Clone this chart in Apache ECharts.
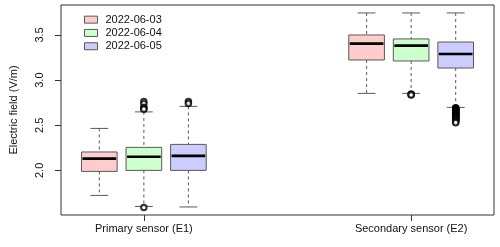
<!DOCTYPE html>
<html>
<head>
<meta charset="utf-8">
<script src="https://cdn.jsdelivr.net/npm/echarts@6/dist/echarts.min.js"></script>
<style>html,body{margin:0;padding:0;background:#fff}#c{width:500px;height:247px}</style>
</head>
<body>
<div id="c"></div>
<script>
// ---- data ----
const categories = ['Primary sensor (E1)', 'Secondary sensor (E2)'];
const dates = ['2022-06-03', '2022-06-04', '2022-06-05'];
// box stats per date: [min, Q1, median, Q3, max] for E1 then E2
const stats0603 = [[1.723, 1.989, 2.130, 2.204, 2.465], [2.853, 3.223, 3.404, 3.500, 3.744]];
const stats0604 = [[1.601, 2.000, 2.152, 2.255, 2.648], [2.853, 3.212, 3.382, 3.456, 3.744]];
const stats0605 = [[1.595, 2.000, 2.161, 2.288, 2.709], [2.698, 3.134, 3.289, 3.422, 3.744]];
// outliers per date: [E1 list, E2 list]
const out0603 = [[], []];
const out0604 = [[2.764, 2.739, 2.698, 2.688, 2.676, 1.590], [2.846, 2.840, 2.834]];
const out0605 = [[2.764, 2.742], [2.694, 2.689, 2.683, 2.679, 2.672, 2.668, 2.661, 2.657, 2.651, 2.646, 2.640, 2.636, 2.631, 2.624, 2.619, 2.613, 2.608, 2.603, 2.597, 2.592, 2.586, 2.581, 2.575, 2.569, 2.563, 2.556, 2.548, 2.540, 2.527]];
const yTickValues = [2.0, 2.5, 3.0, 3.5];
const groupCenters = [2, 8];

// ---- styles ----
const fills = ['#FFCCCC', '#CCFFCC', '#CCCCFF'];
const borderCol = '#595959';
const font = 'Liberation Sans, Arial, Helvetica, sans-serif';
const allStats = [stats0603, stats0604, stats0605];
const allOut = [out0603, out0604, out0605];

function renderBox(params, api) {
  const x = api.value(0);
  const halfW = api.size([0.8, 0])[0] / 2;
  const pMin = api.coord([x, api.value(1)]);
  const pQ1 = api.coord([x, api.value(2)]);
  const pMed = api.coord([x, api.value(3)]);
  const pQ3 = api.coord([x, api.value(4)]);
  const pMax = api.coord([x, api.value(5)]);
  const cx = pMin[0];
  const capW = halfW / 2;
  const fill = fills[params.seriesIndex];
  const dash = {stroke: borderCol, lineWidth: 1, lineDash: [3, 3]};
  const solid = {stroke: borderCol, lineWidth: 1};
  return {type: 'group', children: [
    {type: 'line', shape: {x1: cx, y1: pMax[1], x2: cx, y2: pQ3[1]}, style: dash},
    {type: 'line', shape: {x1: cx, y1: pQ1[1], x2: cx, y2: pMin[1]}, style: dash},
    {type: 'line', shape: {x1: cx - capW, y1: pMax[1], x2: cx + capW, y2: pMax[1]}, style: solid},
    {type: 'line', shape: {x1: cx - capW, y1: pMin[1], x2: cx + capW, y2: pMin[1]}, style: solid},
    {type: 'rect', shape: {x: cx - halfW, y: pQ3[1], width: 2 * halfW, height: pQ1[1] - pQ3[1]},
      style: {fill: fill, stroke: borderCol, lineWidth: 1}},
    {type: 'line', shape: {x1: cx - halfW + 1, y1: pMed[1], x2: cx + halfW - 1, y2: pMed[1]},
      style: {stroke: '#000', lineWidth: 2.6}}
  ]};
}

const series = [];
dates.forEach((d, i) => {
  series.push({
    type: 'custom', name: d, renderItem: renderBox,
    encode: {x: 0, y: [1, 2, 3, 4, 5]},
    itemStyle: {color: fills[i], borderColor: borderCol, borderWidth: 1},
    data: allStats[i].map((s, g) => [groupCenters[g] + i - 1].concat(s)),
    silent: true
  });
});
dates.forEach((d, i) => {
  const pts = [];
  allOut[i].forEach((list, g) => list.forEach(v => pts.push([groupCenters[g] + i - 1, v])));
  series.push({
    type: 'scatter', name: 'out' + i, symbol: 'emptyCircle', symbolSize: 5.5,
    itemStyle: {color: '#000', borderColor: '#000', borderWidth: 1},
    data: pts, silent: true, z: 5
  });
});

const chart = echarts.init(document.getElementById('c'), null, {renderer: 'canvas'});
chart.setOption({
  animation: false,
  backgroundColor: '#fff',
  textStyle: {fontFamily: font},
  grid: {left: 54, top: 5, width: 440, height: 210, show: true, borderColor: '#333', borderWidth: 1, backgroundColor: 'transparent'},
  legend: {
    orient: 'vertical', left: 79, top: 9, itemWidth: 13, itemHeight: 7, itemGap: 2,
    icon: 'rect',
    data: dates.map((d, i) => ({name: d, itemStyle: {color: fills[i], borderColor: borderCol, borderWidth: 1}})),
    textStyle: {fontSize: 11, color: '#111', fontFamily: font, padding: [0, 0, 0, 3], lineHeight: 11.3}
  },
  xAxis: {
    type: 'value', min: 0.14, max: 9.86,
    axisLine: {show: false}, splitLine: {show: false},
    axisTick: {show: true, length: 6, customValues: groupCenters, lineStyle: {color: '#333'}},
    axisLabel: {customValues: groupCenters, margin: 8, fontSize: 11, color: '#111', fontFamily: font,
      formatter: v => categories[groupCenters.indexOf(v)]}
  },
  yAxis: {
    type: 'value', min: 1.506, max: 3.832,
    name: 'Electric field (V/m)', nameLocation: 'middle', nameGap: 42,
    nameTextStyle: {fontSize: 11, color: '#111', fontFamily: font},
    axisLine: {show: false}, splitLine: {show: false},
    axisTick: {show: true, length: 6, customValues: yTickValues, lineStyle: {color: '#333'}},
    axisLabel: {customValues: yTickValues, rotate: 90, margin: 16, fontSize: 11, color: '#111', fontFamily: font,
      formatter: v => v.toFixed(1)}
  },
  series: series
});
</script>
</body>
</html>
